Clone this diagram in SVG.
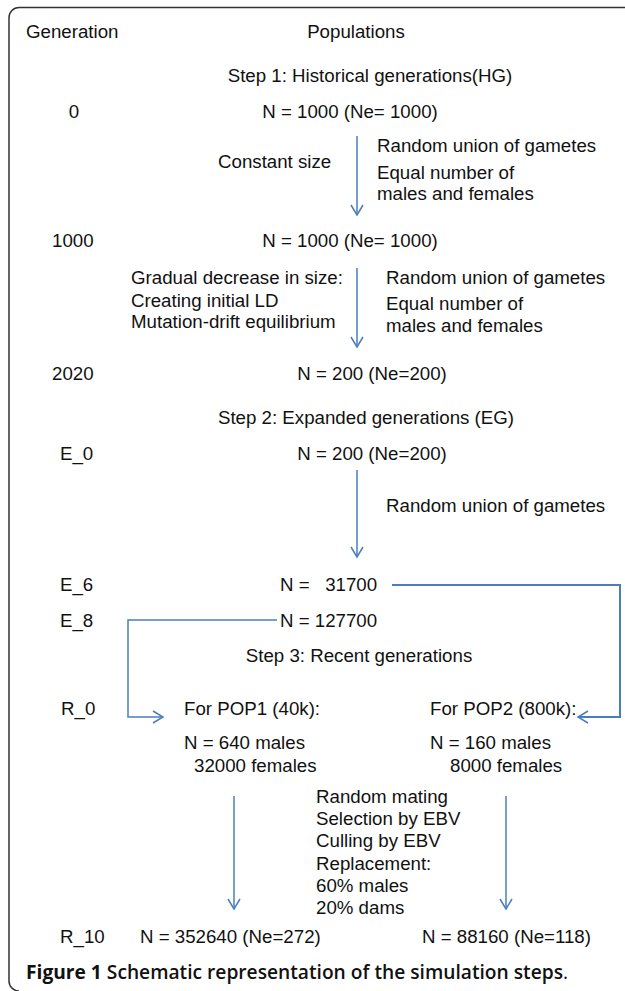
<svg xmlns="http://www.w3.org/2000/svg" width="625" height="991" viewBox="0 0 625 991">
<style>
text{font-family:"Liberation Sans",Arial,sans-serif;font-size:18.7px;fill:#111}
.cap{font-family:"Open Sans","Noto Sans",sans-serif;font-size:19.2px;font-weight:600}
.b{font-weight:bold}
.n{font-weight:normal}
.c{text-anchor:middle}
.ln{fill:none;stroke:#4a7ebb;stroke-width:1.5}
.ln2{fill:none;stroke:#4a7ebb;stroke-width:2}
</style>
<defs>
<marker id="ah" markerUnits="userSpaceOnUse" markerWidth="16" markerHeight="16" viewBox="-12 -8 14 16" refX="0" refY="0" orient="auto">
<path d="M-10,-6 L0,0 L-10,6" fill="none" stroke="#4a7ebb" stroke-width="1.5"/>
</marker>
</defs>
<path id="frame" d="M625,7.5 H19 A10,10 0 0 0 9,17.5 V981 A10,10 0 0 0 19,991" fill="none" stroke="#333" stroke-width="1.5"/>
<g id="headers">
<text x="26" y="38">Generation</text>
<text x="356" y="38" class="c">Populations</text>
</g>
<g id="gen-labels">
<text x="74" y="118" class="c">0</text>
<text x="52" y="247">1000</text>
<text x="52" y="380">2020</text>
<text x="60" y="460">E_0</text>
<text x="60" y="591">E_6</text>
<text x="60" y="627">E_8</text>
<text x="61" y="715">R_0</text>
<text x="60" y="943">R_10</text>
</g>
<g id="step1">
<text x="370" y="82" class="c">Step 1: Historical generations(HG)</text>
</g>
<g id="hg0"><text x="350" y="118" class="c">N = 1000 (Ne= 1000)</text></g>
<g id="hg-notes1">
<text x="218" y="168">Constant size</text>
<text x="377" y="152">Random union of gametes</text>
<text x="377" y="179">Equal number of</text>
<text x="377" y="200">males and females</text>
</g>
<g id="hg1000"><text x="350" y="247" class="c">N = 1000 (Ne= 1000)</text></g>
<g id="hg-notes2">
<text x="131" y="284">Gradual decrease in size:</text>
<text x="131" y="307">Creating initial LD</text>
<text x="131" y="328">Mutation-drift equilibrium</text>
<text x="386" y="284">Random union of gametes</text>
<text x="386" y="310">Equal number of</text>
<text x="386" y="332">males and females</text>
</g>
<g id="hg2020"><text x="372" y="380" class="c">N = 200 (Ne=200)</text></g>
<g id="step2"><text x="366" y="424" class="c">Step 2: Expanded generations (EG)</text></g>
<g id="e0"><text x="372" y="460" class="c">N = 200 (Ne=200)</text></g>
<g id="eg-notes"><text x="386" y="512">Random union of gametes</text></g>
<g id="e6"><text x="280" y="591" xml:space="preserve">N =   31700</text></g>
<g id="e8"><text x="280" y="627">N = 127700</text></g>
<g id="step3"><text x="359" y="662" class="c">Step 3: Recent generations</text></g>
<g id="pop1">
<text x="184" y="715">For POP1 (40k):</text>
<text x="184" y="749">N = 640 males</text>
<text x="194" y="772">32000 females</text>
</g>
<g id="pop2">
<text x="430" y="715">For POP2 (800k):</text>
<text x="430" y="749">N = 160 males</text>
<text x="450" y="772">8000 females</text>
</g>
<g id="rg-notes">
<text x="316" y="803">Random mating</text>
<text x="316" y="825">Selection by EBV</text>
<text x="316" y="847">Culling by EBV</text>
<text x="316" y="870">Replacement:</text>
<text x="316" y="892">60% males</text>
<text x="316" y="914">20% dams</text>
</g>
<g id="r10-pop1"><text x="140" y="943">N = 352640 (Ne=272)</text></g>
<g id="r10-pop2"><text x="422" y="943">N = 88160 (Ne=118)</text></g>
<g id="connectors">
<path class="ln" d="M357,136 V215" marker-end="url(#ah)"/>
<path class="ln" d="M357,268 V347" marker-end="url(#ah)"/>
<path class="ln" d="M357,470 V557" marker-end="url(#ah)"/>
<path class="ln2" d="M392,585 H620 V717 H578" marker-end="url(#ah)"/>
<path class="ln" d="M277,620 H128 V717 H163" marker-end="url(#ah)"/>
<path class="ln" d="M234,796 V909" marker-end="url(#ah)"/>
<path class="ln" d="M506,796 V909" marker-end="url(#ah)"/>
</g>
<text class="cap" x="26" y="979"><tspan class="b">Figure 1</tspan> Schematic representation of the simulation steps<tspan class="n">.</tspan></text>
</svg>
